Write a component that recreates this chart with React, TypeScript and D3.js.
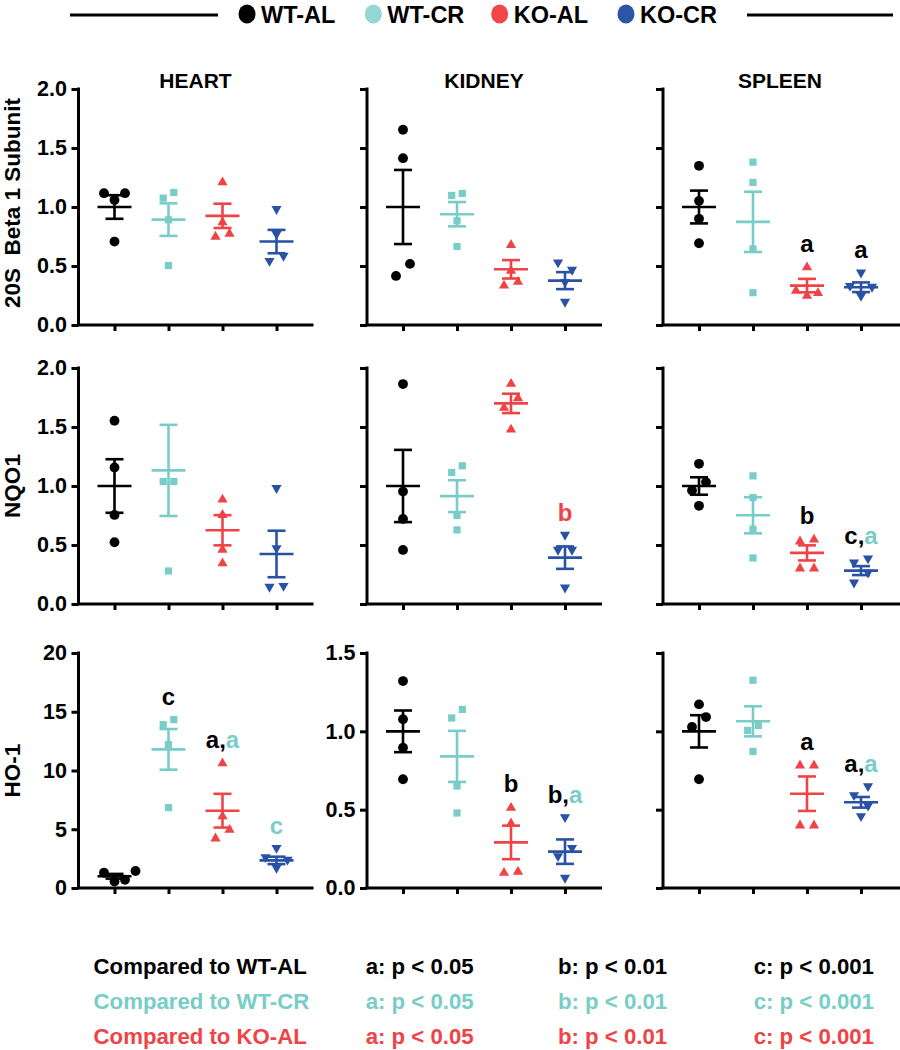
import React, { useRef, useEffect } from "react";
import * as d3 from "d3";

// ---------- categories / series ----------
const groups = ["WT-AL", "WT-CR", "KO-AL", "KO-CR"];
const groupColors = ["#000000", "#78cdc8", "#ef4346", "#2a52a4"];
const legendColors = ["#000000", "#93d7d3", "#f04848", "#2d55a5"];
const organs = ["HEART", "KIDNEY", "SPLEEN"];
const markers = ["20S  Beta 1 Subunit", "NQO1", "HO-1"];
const compareLabels = ["Compared to WT-AL", "Compared to WT-CR", "Compared to KO-AL"];
const pLevels = ["a: p < 0.05", "b: p < 0.01", "c: p < 0.001"];

// ---------- 20S Beta 1 subunit ----------
const beta1Heart = [[1.117, 1.06, 1.117, 0.707], [1.075, 1.123, 0.891, 0.504], [1.216, 0.877, 0.755, 0.78], [0.976, 0.764, 0.537, 0.58]];
const beta1HeartMean = [1.0, 0.893, 0.925, 0.707];
const beta1HeartSem = [0.1, 0.138, 0.103, 0.099];
const beta1Kidney = [[1.655, 1.414, 0.518, 0.416], [1.098, 1.115, 0.883, 0.665], [0.685, 0.467, 0.34, 0.373], [0.523, 0.461, 0.359, 0.19]];
const beta1KidneyMean = [1.0, 0.939, 0.472, 0.376];
const beta1KidneySem = [0.314, 0.103, 0.078, 0.072];
const beta1Spleen = [[1.349, 1.052, 0.9, 0.693], [1.38, 1.208, 0.645, 0.274], [0.495, 0.297, 0.255, 0.277], [0.438, 0.325, 0.317, 0.24]];
const beta1SpleenMean = [1.0, 0.874, 0.334, 0.32];
const beta1SpleenSem = [0.139, 0.255, 0.057, 0.041];

// ---------- NQO1 ----------
const nqo1Heart = [[1.553, 1.157, 0.755, 0.523], [1.038, 1.038, 0.28, 2.17], [0.891, 0.761, 0.467, 0.351], [0.976, 0.467, 0.139, 0.147]];
const nqo1HeartMean = [1.0, 1.132, 0.625, 0.424];
const nqo1HeartSem = [0.227, 0.386, 0.128, 0.197];
const nqo1Kidney = [[1.864, 0.953, 0.721, 0.458], [1.115, 1.171, 0.75, 0.628], [1.873, 1.751, 1.669, 1.485], [0.58, 0.453, 0.453, 0.133]];
const nqo1KidneyMean = [1.0, 0.914, 1.7, 0.393];
const nqo1KidneySem = [0.306, 0.135, 0.082, 0.095];
const nqo1Spleen = [[1.188, 1.033, 0.962, 0.832], [1.086, 0.902, 0.634, 0.39], [0.552, 0.537, 0.308, 0.308], [0.379, 0.345, 0.26, 0.175]];
const nqo1SpleenMean = [1.0, 0.752, 0.433, 0.283];
const nqo1SpleenSem = [0.074, 0.153, 0.064, 0.038];

// ---------- HO-1 ----------
const ho1Heart = [[1.45, 0.55, 1.3, 0.7], [13.9, 14.33, 12.2, 6.84], [10.67, 6.16, 5.02, 4.28], [3.35, 2.55, 2.35, 1.65]];
const ho1HeartMean = [1.0, 11.8, 6.58, 2.35];
const ho1HeartSem = [0.2, 1.73, 1.435, 0.315];
const ho1Kidney = [[1.321, 1.077, 0.896, 0.694], [1.085, 1.14, 0.651, 0.479], [0.517, 0.417, 0.102, 0.109], [0.447, 0.251, 0.198, 0.06]];
const ho1KidneyMean = [1.0, 0.84, 0.291, 0.232];
const ho1KidneySem = [0.133, 0.163, 0.107, 0.078];
const ho1Spleen = [[1.172, 1.091, 1.028, 0.694], [1.326, 1.038, 1.006, 0.872], [0.787, 0.787, 0.404, 0.404], [0.645, 0.587, 0.521, 0.453]];
const ho1SpleenMean = [1.0, 1.064, 0.602, 0.547];
const ho1SpleenSem = [0.103, 0.096, 0.11, 0.034];

// ---------- significance letters: [group, [letter, comparison index]...] ----------
type Note = { g: number; parts: [string, number][] };
const beta1SpleenNotes: Note[] = [{ g: 2, parts: [["a", 0]] }, { g: 3, parts: [["a", 0]] }];
const nqo1KidneyNotes: Note[] = [{ g: 3, parts: [["b", 2]] }];
const nqo1SpleenNotes: Note[] = [{ g: 2, parts: [["b", 0]] }, { g: 3, parts: [["c", 0], [",", 0], ["a", 1]] }];
const ho1HeartNotes: Note[] = [{ g: 1, parts: [["c", 0]] }, { g: 2, parts: [["a", 0], [",", 0], ["a", 1]] }, { g: 3, parts: [["c", 1]] }];
const ho1KidneyNotes: Note[] = [{ g: 2, parts: [["b", 0]] }, { g: 3, parts: [["b", 0], [",", 0], ["a", 1]] }];
const ho1SpleenNotes: Note[] = [{ g: 2, parts: [["a", 0]] }, { g: 3, parts: [["a", 0], [",", 0], ["a", 1]] }];

const yMaxByRow = [[2, 2, 2], [2, 2, 2], [20, 1.5, 1.5]];
const yStepByRow = [[0.5, 0.5, 0.5], [0.5, 0.5, 0.5], [5, 0.5, 0.5]];

type Panel = { row: number; col: number; pts: number[][]; mean: number[]; sem: number[]; notes: Note[] };
const panels: Panel[] = [
  { row: 0, col: 0, pts: beta1Heart, mean: beta1HeartMean, sem: beta1HeartSem, notes: [] },
  { row: 0, col: 1, pts: beta1Kidney, mean: beta1KidneyMean, sem: beta1KidneySem, notes: [] },
  { row: 0, col: 2, pts: beta1Spleen, mean: beta1SpleenMean, sem: beta1SpleenSem, notes: beta1SpleenNotes },
  { row: 1, col: 0, pts: nqo1Heart, mean: nqo1HeartMean, sem: nqo1HeartSem, notes: [] },
  { row: 1, col: 1, pts: nqo1Kidney, mean: nqo1KidneyMean, sem: nqo1KidneySem, notes: nqo1KidneyNotes },
  { row: 1, col: 2, pts: nqo1Spleen, mean: nqo1SpleenMean, sem: nqo1SpleenSem, notes: nqo1SpleenNotes },
  { row: 2, col: 0, pts: ho1Heart, mean: ho1HeartMean, sem: ho1HeartSem, notes: ho1HeartNotes },
  { row: 2, col: 1, pts: ho1Kidney, mean: ho1KidneyMean, sem: ho1KidneySem, notes: ho1KidneyNotes },
  { row: 2, col: 2, pts: ho1Spleen, mean: ho1SpleenMean, sem: ho1SpleenSem, notes: ho1SpleenNotes },
];

// ---------- layout ----------
const W = 900;
const H = 1050;
const FONT = "'Liberation Sans', Arial, Helvetica, sans-serif";
const colLeft = [78.5, 367, 663];
const axisW = 235;
const rowTopBottom = [[89, 325], [368, 604], [653, 888]];

const shapes = [d3.symbolCircle, d3.symbolSquare, d3.symbolTriangle, d3.symbolTriangle];
const shapeSize = [76, 52, 45, 45];
const shapeFull = [10.5, 9, 11, 11];
const shapeHalf = [7, 5.3, 7, 7];

function swarm(vals: number[], y: (v: number) => number, full: number, half: number, T: number): number[] {
  const idx = vals.map((_, i) => i).sort((a, b) => vals[a] - vals[b]);
  const col: number[] = new Array(vals.length).fill(0);
  const placed: number[] = [];
  for (const i of idx) {
    for (const c of [0, 1, -1, 2, -2]) {
      const hit = placed.some((j) => col[j] === c && Math.abs(y(vals[i]) - y(vals[j])) < T);
      if (!hit) {
        col[i] = c;
        break;
      }
    }
    placed.push(i);
  }
  const off = col.map((c) => c * full);
  vals.forEach((v, i) => {
    if (col[i] !== 1) return;
    const hasLeft = vals.some((w, j) => col[j] === -1 && Math.abs(y(w) - y(v)) < T);
    if (hasLeft) return;
    let best = -1;
    let bd = Infinity;
    vals.forEach((w, j) => {
      if (col[j] === 0) {
        const d = Math.abs(y(w) - y(v));
        if (d < T && d < bd) {
          bd = d;
          best = j;
        }
      }
    });
    if (best >= 0) {
      off[i] = half;
      off[best] = -half;
    }
  });
  return off;
}

export default function App() {
  const ref = useRef<SVGSVGElement | null>(null);

  useEffect(() => {
    const svg = d3.select(ref.current);
    svg.selectAll("*").remove();
    svg.attr("font-family", FONT);

    // ----- legend -----
    const lg = svg.append("g");
    lg.append("line").attr("x1", 70).attr("x2", 218).attr("y1", 15).attr("y2", 15).attr("stroke", "#000").attr("stroke-width", 3);
    lg.append("line").attr("x1", 747).attr("x2", 893).attr("y1", 15).attr("y2", 15).attr("stroke", "#000").attr("stroke-width", 3);
    const lx = d3.scalePoint<string>().domain(groups).range([247, 626]);
    groups.forEach((g, i) => {
      const x = lx(g) as number;
      lg.append("ellipse").attr("cx", x).attr("cy", 14).attr("rx", 8.5).attr("ry", 9.5).attr("fill", legendColors[i]);
      lg.append("text").attr("x", x + 14).attr("y", 22.5).attr("font-size", 23.5).attr("font-weight", "bold").attr("fill", "#000").text(g);
    });

    // ----- panels -----
    panels.forEach((p) => {
      const [top, bottom] = rowTopBottom[p.row];
      const left = colLeft[p.col];
      const yMax = yMaxByRow[p.row][p.col];
      const step = yStepByRow[p.row][p.col];
      const y = d3.scaleLinear().domain([0, yMax]).range([bottom, top]);
      const x = d3.scalePoint<string>().domain(groups).range([left + 36, left + 198]);
      const showLabels = p.col === 0 || (p.row === 2 && p.col === 1);
      const fmt = yMax >= 10 ? d3.format("d") : d3.format(".1f");
      const g = svg.append("g");

      // y axis
      const ticks = d3.range(0, yMax + step / 2, step);
      const ya = d3
        .axisLeft(y)
        .tickValues(ticks)
        .tickSize(7)
        .tickSizeOuter(0)
        .tickPadding(4.5)
        .tickFormat((d) => (showLabels ? fmt(d as number) : ""));
      const yg = g.append("g").attr("transform", `translate(${left},0)`).call(ya);
      yg.select(".domain").remove();
      yg.selectAll("line").attr("stroke", "#000").attr("stroke-width", 3);
      yg.selectAll("text").attr("font-size", 21.5).attr("font-weight", "bold").attr("fill", "#000").attr("font-family", FONT);
      g.append("line").attr("x1", left).attr("x2", left).attr("y1", top - 1.5).attr("y2", bottom).attr("stroke", "#000").attr("stroke-width", 3);

      // x axis
      const xa = d3.axisBottom(x).tickSize(6).tickSizeOuter(0).tickFormat(() => "");
      const xg = g.append("g").attr("transform", `translate(0,${bottom})`).call(xa);
      xg.select(".domain").remove();
      xg.selectAll("line").attr("stroke", "#000").attr("stroke-width", 3);
      g.append("line").attr("x1", left - 1.5).attr("x2", left + axisW + (p.col === 2 ? 2 : 0)).attr("y1", bottom).attr("y2", bottom).attr("stroke", "#000").attr("stroke-width", 3);

      // title
      if (p.row === 0) {
        g.append("text").attr("x", left + 117).attr("y", 88).attr("text-anchor", "middle").attr("font-size", 21).attr("font-weight", "bold").text(organs[p.col]);
      }
      // y label
      if (p.col === 0) {
        g.append("text")
          .attr("transform", `translate(19.5,${(top + bottom) / 2 - (p.row === 0 ? 4 : 0)}) rotate(-90)`)
          .attr("text-anchor", "middle")
          .attr("font-size", 22.5)
          .attr("font-weight", "bold")
          .style("white-space", "pre")
          .text(markers[p.row]);
      }

      // points
      groups.forEach((grp, gi) => {
        const cx = x(grp) as number;
        const vals = p.pts[gi];
        const offs = swarm(vals, y, shapeFull[gi], shapeHalf[gi], 12.5);
        const sym = d3.symbol().type(shapes[gi]).size(shapeSize[gi]);
        vals.forEach((v, i) => {
          if (v > yMax) return;
          const rot = gi === 3 ? " rotate(180)" : "";
          const dy = gi === 2 ? 0.8 : gi === 3 ? -0.8 : 0;
          g.append("path")
            .attr("d", sym() as string)
            .attr("transform", `translate(${cx + offs[i]},${y(v) + dy})${rot}`)
            .attr("fill", groupColors[gi]);
        });
        // mean and SEM
        const m = p.mean[gi];
        const s = p.sem[gi];
        const line = (x1: number, x2: number, y1: number, y2: number) =>
          g.append("line").attr("x1", x1).attr("x2", x2).attr("y1", y1).attr("y2", y2).attr("stroke", groupColors[gi]).attr("stroke-width", 2.6);
        line(cx - 17, cx + 17, y(m), y(m));
        line(cx, cx, y(m - s), y(m + s));
        line(cx - 9, cx + 9, y(m + s), y(m + s));
        line(cx - 9, cx + 9, y(m - s), y(m - s));
      });

      // significance letters
      p.notes.forEach((n) => {
        const cx = x(groups[n.g]) as number;
        const vis = p.pts[n.g].filter((v) => v <= yMax);
        const topV = Math.max(d3.max(vis) ?? 0, p.mean[n.g] + p.sem[n.g]);
        const t = g.append("text").attr("x", cx).attr("y", y(topV) - 15).attr("text-anchor", "middle").attr("font-size", 24).attr("font-weight", "bold");
        n.parts.forEach(([txt, ci]) => {
          t.append("tspan").attr("fill", groupColors[ci]).text(txt);
        });
      });
    });

    // ----- footer -----
    const footX = [93.6, 365.7, 558, 753.7];
    const footY = [974, 1009, 1044];
    compareLabels.forEach((lab, r) => {
      const col = groupColors[r];
      svg.append("text").attr("x", footX[0]).attr("y", footY[r]).attr("font-size", 22.2).attr("font-weight", "bold").attr("fill", col).text(lab);
      pLevels.forEach((pl, k) => {
        svg.append("text").attr("x", footX[k + 1]).attr("y", footY[r]).attr("font-size", 22.2).attr("font-weight", "bold").attr("fill", col).text(pl);
      });
    });
  }, []);

  return (
    <svg
      ref={ref}
      width={W}
      height={H}
      viewBox={`0 0 ${W} ${H}`}
      style={{ position: "absolute", left: 0, top: 0, background: "#fff" }}
    />
  );
}
